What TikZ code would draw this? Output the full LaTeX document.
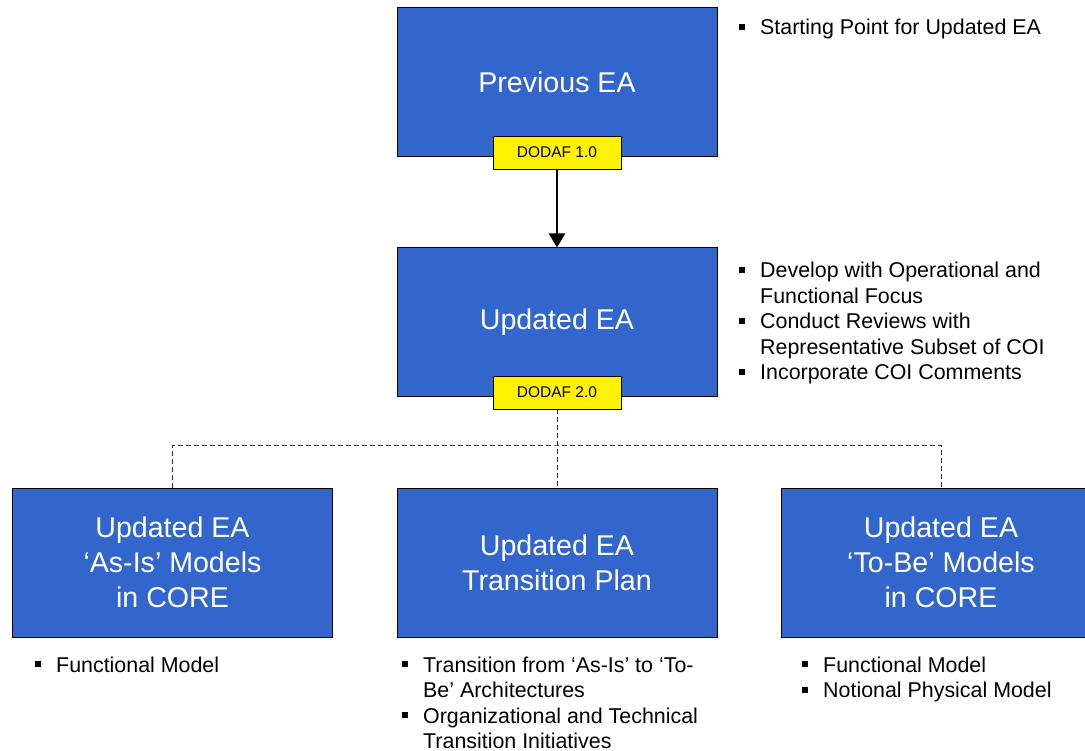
\documentclass[tikz,border=0pt]{standalone}
\usepackage{fontspec}
\setmainfont{Liberation Sans}
\usetikzlibrary{arrows.meta}
\definecolor{eablue}{RGB}{51,102,204}
\newcommand{\bitem}[1]{\par\noindent\hangindent=21pt\hangafter=1\makebox[21pt][l]{\rule[5pt]{6pt}{6pt}}#1}
\newcommand{\bullets}[2]{\parbox[t]{#1}{\raggedright#2}}

\begin{document}
\begin{tikzpicture}[x=1pt,y=-1pt,
    eabox/.style={draw=black,line width=1pt,fill=eablue,text=white,minimum width=320pt,minimum height=149pt,align=center,inner sep=0pt,font=\fontsize{28.6}{35}\selectfont},
    tagbox/.style={draw=black,line width=0.8pt,fill=yellow,minimum width=128pt,minimum height=33pt,inner sep=0pt,font=\fontsize{15.5}{18}\selectfont},
    notes/.style={anchor=base west,inner sep=0pt,font=\fontsize{21.4}{25.5}\selectfont},
    link/.style={draw=black!80,line width=0.9pt,dash pattern=on 5pt off 3pt}]
    \useasboundingbox (0,0) rectangle (1085,751);
    \clip (0,0) rectangle (1085,751);

    \node[eabox] (prev) at (557,82.5) {Previous EA}; %previous
    \node[tagbox] (tag1) at (557,152.5) {DODAF 1.0};
    \node[eabox] (upd) at (557,322.5) {Updated EA}; %updated
    \node[tagbox] (tag2) at (557,392.5) {DODAF 2.0};

    \node[eabox] (asis) at (172.5,562.5) {Updated EA\\‘As-Is’ Models\\in CORE}; %as-is
    \node[eabox] (plan) at (557,562.5) {Updated EA\\Transition Plan}; %transition
    \node[eabox] (tobe) at (941,562.5) {Updated EA\\‘To-Be’ Models\\in CORE}; %to-be

    \draw[line width=2pt,-{Triangle[width=16pt,length=14pt]}] (tag1) -- (upd);

    \coordinate (bus) at (557,445);
    \draw[link] (tag2) -- (plan);
    \draw[link] (asis) |- (bus) -| (tobe);

    \node[notes] (prevnotes) at (739,35) {\bullets{330pt}{\bitem{Starting Point for Updated EA}}};
    \node[notes] (updnotes) at (739,278) {\bullets{330pt}{\bitem{Develop with Operational and\newline Functional Focus}\bitem{Conduct Reviews with\newline Representative Subset of COI}\bitem{Incorporate COI Comments}}};
    \node[notes] (asisnotes) at (35,672) {\bullets{300pt}{\bitem{Functional Model}}};
    \node[notes] (plannotes) at (402,672) {\bullets{330pt}{\bitem{Transition from ‘As-Is’ to ‘To-\newline Be’ Architectures}\bitem{Organizational and Technical\newline Transition Initiatives}}};
    \node[notes] (tobenotes) at (802,672) {\bullets{280pt}{\bitem{Functional Model}\bitem{Notional Physical Model}}};
\end{tikzpicture}
\end{document}
